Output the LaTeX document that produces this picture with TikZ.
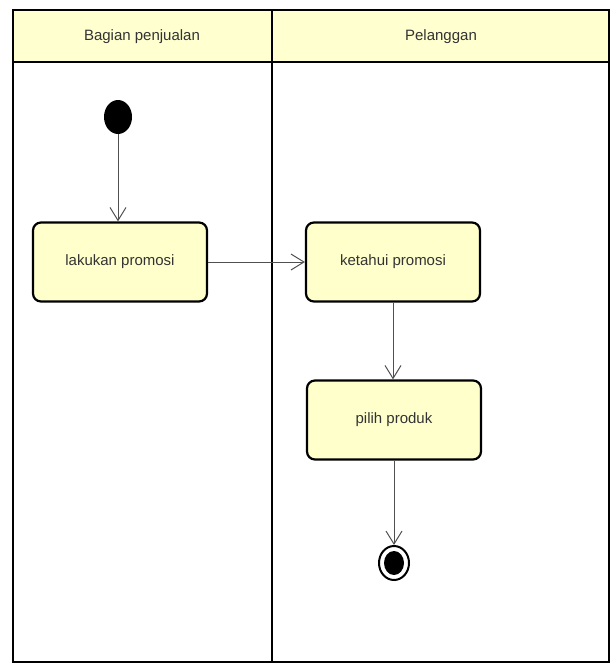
\documentclass[tikz,border=0pt]{standalone}
\usepackage{fontspec}
\setmainfont{Liberation Sans}
\usetikzlibrary{arrows.meta}
\usetikzlibrary{shapes.geometric}
\definecolor{lanefill}{HTML}{FFFFCF}
\definecolor{actfill}{HTML}{FFFFCC}
\definecolor{flowgray}{HTML}{505050}

\begin{document}
\begin{tikzpicture}[x=1pt,y=-1pt,>={Straight Barb[length=13pt,width=16pt]},
	font=\fontsize{15}{17}\selectfont,text=black!80]
	\tikzstyle{lane}=[draw=black,line width=2.2pt]
	\tikzstyle{action}=[draw=black,line width=2.2pt,fill=actfill,rounded corners=8pt,
		minimum width=174pt,minimum height=79pt,inner sep=0pt]
	\tikzstyle{flow}=[->,draw=flowgray,line width=1pt]
	\useasboundingbox (0,0) rectangle (612,664);
	
	% swimlanes
	\fill[lanefill] (13,10) rectangle (609,62);
	\draw[lane] (13,10) rectangle (609,662);
	\draw[lane] (13,62) -- (609,62);
	\draw[lane] (272,10) -- (272,662);
	\node (lane_1) at (142,37) {Bagian penjualan};
	\node (lane_2) at (441,37) {Pelanggan};
	
	\node[ellipse,fill=black,minimum width=28pt,minimum height=34pt,inner sep=0pt] (start) at (118,117) {};
	\node[action] (lakukan) at (120,262) {lakukan promosi};
	\node[action] (ketahui) at (393,262) {ketahui promosi};
	\node[action] (pilih) at (394,420) {pilih produk};
	\node[ellipse,draw=black,line width=2pt,minimum width=30pt,minimum height=34pt,inner sep=0pt] (end) at (394,563) {};
	\node[ellipse,fill=black,minimum width=20pt,minimum height=24pt,inner sep=0pt] (end_dot) at (end) {};
	
	\draw[flow] (start) -- (start |- lakukan.north);
	\draw[flow] (lakukan) -- (ketahui);
	\draw[flow] (ketahui) -- (ketahui |- pilih.north);
	\draw[flow] (pilih) -- (end);
\end{tikzpicture}
\end{document}
